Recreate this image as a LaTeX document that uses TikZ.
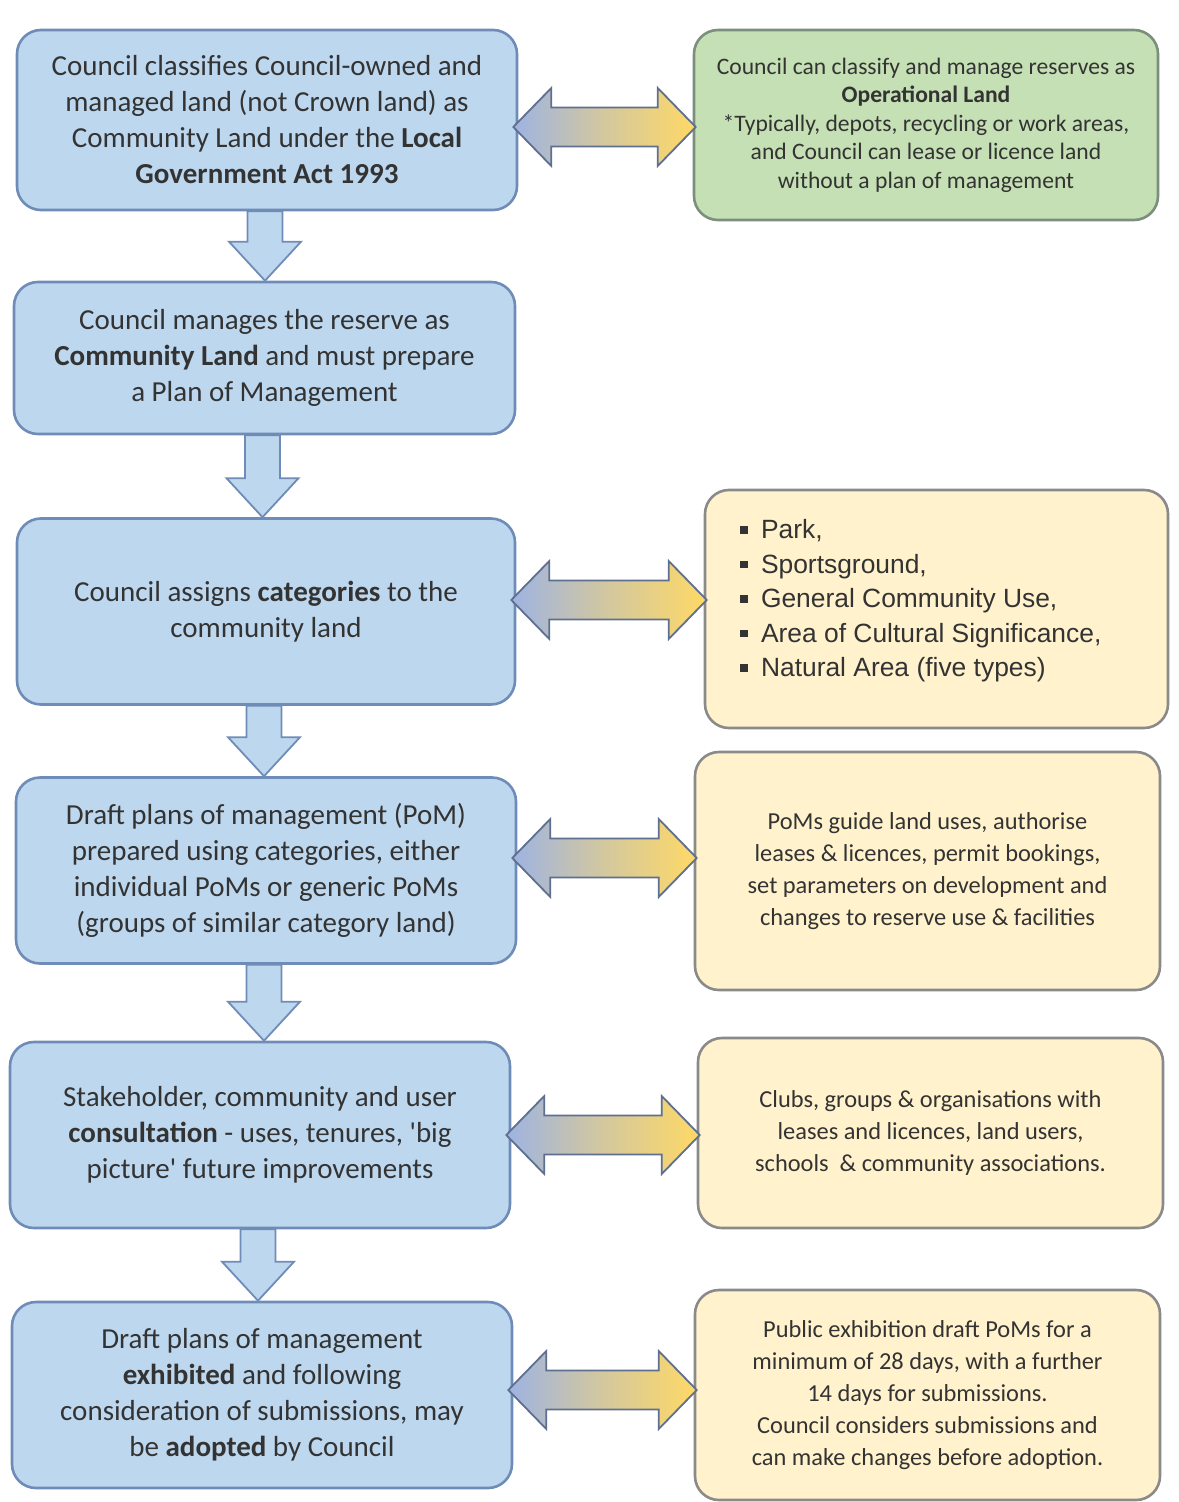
\documentclass[tikz,border=0pt]{standalone}
\usepackage{fontspec}
\setmainfont{Carlito}
\newfontfamily\arialfont{Liberation Sans}
\usetikzlibrary{calc}
\definecolor{bluefill}{HTML}{BDD7EE}
\definecolor{blueline}{HTML}{6F8CB8}
\definecolor{greenfill}{HTML}{C5E0B4}
\definecolor{greenline}{HTML}{7C8F7C}
\definecolor{yelfill}{HTML}{FFF2CC}
\definecolor{yelline}{HTML}{8A8A8A}
\definecolor{txt}{HTML}{333333}
\definecolor{arrblue}{HTML}{9EB3E2}
\definecolor{arryel}{HTML}{FFD966}
\definecolor{arrline}{HTML}{5F6F8F}
\tikzset{
  leftbox/.style={draw=blueline, fill=bluefill, line width=1.3pt, rounded corners=12pt,
    align=center, text=txt, font=\fontsize{14.5}{18}\selectfont, inner sep=0pt,
    minimum width=250pt, minimum height=93pt},
  rightbox/.style={draw=yelline, fill=yelfill, line width=1.3pt, rounded corners=12pt,
    align=center, text=txt, font=\fontsize{12.2}{16}\selectfont, inner sep=0pt,
    minimum width=232.5pt, minimum height=119pt},
  greenbox/.style={rightbox, draw=greenline, fill=greenfill,
    font=\fontsize{11.8}{14.25}\selectfont},
  dblarrow/.style={draw=arrline, line width=0.9pt, left color=arrblue, right color=arryel, middle color=arrblue!45!arryel},
  downarrow/.style={draw=blueline, line width=0.9pt, fill=bluefill},
}
\newcommand\dblarr[3]{%
  \coordinate (da) at ($(#1.east |- 0,#3)+(-5,0)$);
  \coordinate (db) at ($(#2.west |- 0,#3)+(3,0)$);
  \path[dblarrow] (da) -- ($(da)+(38,-39)$) -- ($(da)+(38,-19.5)$) -- ($(db)+(-38,-19.5)$)
    -- ($(db)+(-38,-39)$) -- (db) -- ($(db)+(-38,39)$) -- ($(db)+(-38,19.5)$)
    -- ($(da)+(38,19.5)$) -- ($(da)+(38,39)$) -- cycle;}
\newcommand\downarr[2]{%
  \coordinate (ua) at ($(#1.south)+(-2,0)$);
  \coordinate (ub) at (ua |- #2.north);
  \path[downarrow] ($(ua)+(-17.5,0)$) -- ($(ub)+(-17.5,-39)$) -- ($(ub)+(-36,-39)$) -- (ub)
    -- ($(ub)+(36,-39)$) -- ($(ub)+(17.5,-39)$) -- ($(ua)+(17.5,0)$) -- cycle;}
\newcommand\sq{\rule[2.4pt]{3.8pt}{3.8pt}\hspace{6.5pt}}
\begin{document}
\begin{tikzpicture}[x=0.5pt,y=-0.5pt]
\useasboundingbox[fill=white] (0,0) rectangle (1178,1502);
\node[leftbox, minimum height=90pt] (L1) at (267,120) {Council classifies Council-owned and\\managed land (not Crown land) as\\Community Land under the \textbf{Local}\\\textbf{Government Act 1993}};
\node[leftbox, minimum width=250.5pt, minimum height=76pt] (L2) at (264.5,358) {Council manages the reserve as\\\textbf{Community Land} and must prepare\\a Plan of Management};
\node[leftbox, minimum width=249pt] (L3) at (266,611.5) {Council assigns \textbf{categories} to the\\community land};
\node[leftbox] (L4) at (266,870.5) {Draft plans of management (PoM)\\prepared using categories, either\\individual PoMs or generic PoMs\\(groups of similar category land)};
\node[leftbox] (L5) at (260,1135) {Stakeholder, community and user\\\textbf{consultation} - uses, tenures, \textquotesingle big\\picture\textquotesingle\ future improvements};
\node[leftbox] (L6) at (262,1395) {Draft plans of management\\\textbf{exhibited} and following\\consideration of submissions, may\\be \textbf{adopted} by Council};
\node[greenbox, minimum width=232pt, minimum height=95pt] (R1) at (926,125) {Council can classify and manage reserves as\\\textbf{Operational Land}\\*Typically, depots, recycling or work areas,\\and Council can lease or licence land\\without a plan of management};
\node[rightbox, minimum width=231.5pt] (R2) at (936.5,609) {};
\node[anchor=north west, inner sep=0pt, align=left, text=txt, font=\arialfont\fontsize{13.2}{17.25}\selectfont] (R2t) at (740,519) {\sq Park,\\\sq Sportsground,\\\sq General Community Use,\\\sq Area of Cultural Significance,\\\sq Natural Area (five types)};
\node[rightbox] (R3) at (927.5,871) {PoMs guide land uses, authorise\\leases \& licences, permit bookings,\\set parameters on development and\\changes to reserve use \& facilities};
\node[rightbox, minimum height=95pt] (R4) at (930.5,1133) {Clubs, groups \& organisations with\\leases and licences, land users,\\schools\ \ \& community associations.};
\node[rightbox, minimum height=105pt] (R5) at (927.5,1395) {Public exhibition draft PoMs for a\\minimum of 28 days, with a further\\14 days for submissions.\\Council considers submissions and\\can make changes before adoption.};
\dblarr{L1}{R1}{127}
\dblarr{L3}{R2}{600}
\dblarr{L4}{R3}{858}
\dblarr{L5}{R4}{1135}
\dblarr{L6}{R5}{1390}
\downarr{L1}{L2}
\downarr{L2}{L3}
\downarr{L3}{L4}
\downarr{L4}{L5}
\downarr{L5}{L6}
\end{tikzpicture}
\end{document}
